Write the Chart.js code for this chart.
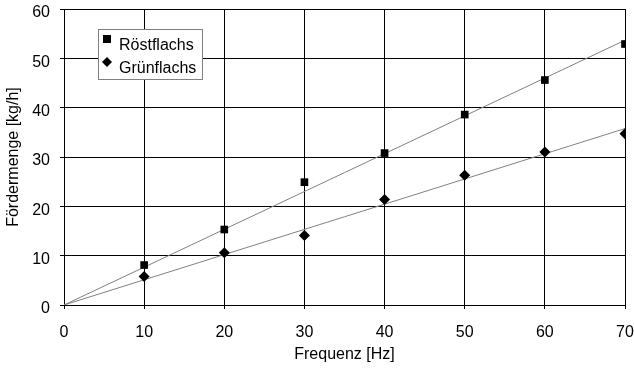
<!DOCTYPE html>
<html>
<head>
<meta charset="utf-8">
<script src="https://cdn.jsdelivr.net/npm/chart.js@4/dist/chart.umd.min.js"></script>
<style>
  html, body { margin: 0; padding: 0; background: #fff; }
  #wrap { width: 634px; height: 371px; position: relative; }
</style>
</head>
<body>
<div id="wrap"><canvas id="c" width="634" height="371"></canvas></div>
<script>
// Frequenz in Hz
const freq = [10, 20, 30, 40, 50, 60, 70];
// Fördermenge in kg/h
const roestflachs = [8.1, 15.3, 24.9, 30.8, 38.6, 45.6, 52.9];
const gruenflachs = [5.8, 10.6, 14.1, 21.4, 26.3, 31.0, 34.7];
const seriesNames = ['Röstflachs', 'Grünflachs'];
const xTicks = [0, 10, 20, 30, 40, 50, 60, 70];
const yTicks = [0, 10, 20, 30, 40, 50, 60];

const FONT = 'Liberation Sans, Arial, sans-serif';

// Linear trend through the origin (least squares)
function slopeThroughOrigin(xs, ys) {
  let sxy = 0, sxx = 0;
  xs.forEach((x, i) => { sxy += x * ys[i]; sxx += x * x; });
  return sxy / sxx;
}
function trend(xs, ys) {
  const k = slopeThroughOrigin(xs, ys);
  const xMax = xTicks[xTicks.length - 1];
  return [{ x: 0, y: 0 }, { x: xMax, y: k * xMax }];
}
const pts = (xs, ys) => xs.map((x, i) => ({ x, y: ys[i] }));

// Legend box drawn inside the plot area
const legendBox = {
  id: 'legendBox',
  afterDatasetsDraw(chart) {
    const ctx = chart.ctx;
    ctx.save();
    ctx.fillStyle = '#fff';
    ctx.strokeStyle = '#808080';
    ctx.lineWidth = 1;
    ctx.fillRect(98.5, 29.5, 104, 50);
    ctx.strokeRect(98.5, 29.5, 104, 50);
    ctx.fillStyle = '#000';
    // square
    ctx.fillRect(103, 35, 8, 8);
    // diamond
    ctx.beginPath();
    ctx.moveTo(107, 57);
    ctx.lineTo(112, 62);
    ctx.lineTo(107, 67);
    ctx.lineTo(102, 62);
    ctx.closePath();
    ctx.fill();
    ctx.font = '16px ' + FONT;
    ctx.textBaseline = 'middle';
    ctx.textAlign = 'left';
    ctx.fillText(seriesNames[0], 119, 46);
    ctx.fillText(seriesNames[1], 119, 69);
    ctx.restore();
  }
};

new Chart(document.getElementById('c'), {
  type: 'scatter',
  data: {
    datasets: [
      {
        label: seriesNames[0] + ' Trend',
        data: trend(freq, roestflachs),
        showLine: true,
        borderColor: '#808080',
        borderWidth: 1,
        pointRadius: 0,
        order: 3
      },
      {
        label: seriesNames[1] + ' Trend',
        data: trend(freq, gruenflachs),
        showLine: true,
        borderColor: '#808080',
        borderWidth: 1,
        pointRadius: 0,
        order: 3
      },
      {
        label: seriesNames[0],
        data: pts(freq, roestflachs),
        pointStyle: 'rect',
        pointRadius: 5.4,
        backgroundColor: '#000',
        borderColor: '#000',
        borderWidth: 0,
        order: 1
      },
      {
        label: seriesNames[1],
        data: pts(freq, gruenflachs),
        pointStyle: 'rectRot',
        pointRadius: 5.5,
        backgroundColor: '#000',
        borderColor: '#000',
        borderWidth: 0,
        order: 1
      }
    ]
  },
  options: {
    responsive: false,
    animation: false,
    events: [],
    layout: { padding: { left: 0, right: 9, top: 9, bottom: 0 } },
    plugins: {
      legend: { display: false },
      tooltip: { enabled: false }
    },
    scales: {
      x: {
        type: 'linear',
        min: 0,
        max: 70,
        afterBuildTicks(scale) { scale.ticks = xTicks.map(v => ({ value: v })); },
        afterFit(scale) {
          scale.height = 66;
          scale.paddingLeft = 0; scale.paddingRight = 0;
        },
        grid: { color: '#000', lineWidth: 1, tickLength: 4, drawTicks: true },
        border: { color: '#000', width: 1 },
        ticks: { color: '#000', font: { family: FONT, size: 16 }, padding: 14, maxRotation: 0 },
        title: {
          display: true,
          text: 'Frequenz [Hz]',
          color: '#000',
          font: { family: FONT, size: 16 },
          padding: { top: 0, bottom: 7 }
        }
      },
      y: {
        type: 'linear',
        min: 0,
        max: 60,
        afterBuildTicks(scale) { scale.ticks = yTicks.map(v => ({ value: v })); },
        afterFit(scale) {
          scale.width = 64;
          scale.paddingTop = 0; scale.paddingBottom = 0;
        },
        grid: { color: '#000', lineWidth: 1, tickLength: 4, drawTicks: true },
        border: { color: '#000', width: 1 },
        ticks: { color: '#000', font: { family: FONT, size: 16 }, padding: 10, labelOffset: 4 },
        title: {
          display: true,
          text: 'Fördermenge [kg/h]',
          color: '#000',
          font: { family: FONT, size: 16 },
          padding: { top: 4, bottom: 0 }
        }
      }
    }
  },
  plugins: [legendBox]
});
</script>
</body>
</html>
